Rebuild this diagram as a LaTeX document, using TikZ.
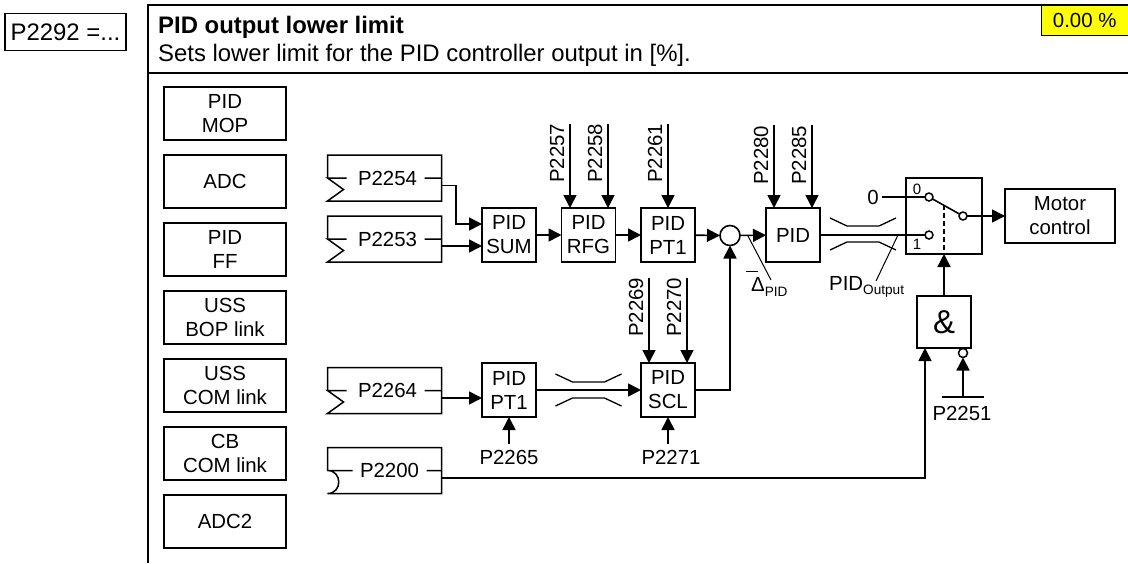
\documentclass[tikz,border=0pt]{standalone}
\usepackage{xcolor}
\usepackage{fontspec}
\setmainfont{Liberation Sans}
\usetikzlibrary{arrows.meta, calc}
\definecolor{paramyellow}{HTML}{FFFF00}
\newcommand{\basefont}{\fontsize{20.4}{24}\selectfont}
\newcommand{\headfont}{\fontsize{23.9}{28}\selectfont}
\newcommand{\subfont}{\fontsize{13.6}{14}\selectfont}
\tikzset{
  block/.style={draw, line width=1.5pt, inner sep=0pt, outer sep=0pt, align=center, minimum width=54pt, minimum height=54pt},
  srcblock/.style={block, minimum width=122pt, minimum height=53pt},
  param/.style={inner sep=0pt, outer sep=0pt, minimum width=114pt, minimum height=46pt},
  outline/.style={line width=1.5pt, line join=miter},
  conn/.style={line width=1.6pt, -{Triangle[length=13pt, width=13pt]}},
  wire/.style={line width=1.6pt},
  thinwire/.style={line width=1pt},
  frame/.style={line width=2.2pt},
  contact/.style={circle, draw, fill=white, line width=1.5pt, inner sep=0pt, outer sep=0pt, minimum size=8pt},
  crossbar/.pic={
    \draw[line width=1.3pt] (-33,-16) -- (-16,-8) -- (16,-8) -- (33,-16);
    \draw[line width=1.3pt] (-33,16) -- (-16,8) -- (16,8) -- (33,16);
  }
}

\begin{document}
\begin{tikzpicture}[x=1pt, y=-1pt, font=\basefont]
    \useasboundingbox (0,0) rectangle (1128,563);
    % header
    \node[draw, line width=1.5pt, inner sep=0pt, minimum width=121pt, minimum height=37pt, font=\headfont] (title) at (65.5,32) {P2292 =...};
    \draw[frame] (1128,5) -| (148,563);
    \draw[frame] (148,73) -- (1128,73);
    \node[anchor=base west, inner sep=0pt, font=\headfont\bfseries] (name) at (158,33) {PID output lower limit};
    \node[anchor=base west, inner sep=0pt, font=\headfont] (descr) at (158,61.5) {Sets lower limit for the PID controller output in [\%].};
    \node[draw, line width=.8pt, fill=paramyellow, inner sep=0pt, minimum width=86.5pt, minimum height=30pt] (value) at (1084.7,20) {0.00 \%};

    % sources on the left
    \foreach \nm/\y/\txt in {mop/113.5/{PID\\MOP}, adc/181.5/{ADC}, ff/249.5/{PID\\FF}, bop/317.5/{USS\\BOP link}, com/385.5/{USS\\COM link}, cb/453.5/{CB\\COM link}, adctwo/521.5/{ADC2}}
      \node[srcblock] (\nm) at (225,\y) {\txt};

    % parameter inputs
    \node[param, label={[xshift=3pt]center:P2254}] (p2254) at (384.5,178) {};
    \node[param, label={[xshift=3pt]center:P2253}] (p2253) at (384.5,239) {};
    \node[param, label={[xshift=3pt]center:P2264}] (p2264) at (384.5,390.5) {};
    \node[param, label={[xshift=5pt]center:P2200}] (p2200) at (384.5,470.5) {};
    \foreach \nm in {p2254,p2253,p2264}
      \draw[outline] (\nm.west) -- (\nm.north west) -- (\nm.north east) -- (\nm.south east) -- (\nm.south west) -- ++(16,-11.5) -- (\nm.west) -- ++(19,0) (\nm.east) -- ++(-17,0);
    \draw[outline] (p2200.west) -- (p2200.north west) -- (p2200.north east) -- (p2200.south east) -- (p2200.south west) .. controls +(15,0) and +(15,0) .. (p2200.west) -- ++(25,0) (p2200.east) -- ++(-15,0);

    % blocks
    \node[block] (pidsum) at (509,235) {PID\\SUM};
    \node[block] (pidrfg) at (588.5,235) {PID\\RFG};
    \node[block] (pidptone) at (668,235) {PID\\PT1};
    \node[circle, draw, line width=1.6pt, inner sep=0pt, outer sep=0pt, minimum size=20pt] (sumpoint) at (730,235.5) {};
    \node[block] (pidmain) at (793,235) {PID};
    \node[block] (lowptone) at (509,390) {PID\\PT1};
    \node[block] (pidscl) at (668,390) {PID\\SCL};
    \node[block, minimum width=76pt, minimum height=76pt] (switchbox) at (944,216) {};
    \node[block, minimum width=110pt] (motor) at (1060,216) {Motor\\control};
    \node[block, minimum height=52pt, font=\fontsize{33}{34}\selectfont] (andgate) at (944,322) {\&};

    % parameters entering from above
    \foreach \nm/\x/\top/\lab/\blk in {2257/570/124/183/pidrfg, 2258/608/124/183/pidrfg, 2261/668/124/183/pidptone, 2280/774/125/185/pidmain, 2285/812/125/185/pidmain, 2269/649/278/337/pidscl, 2270/687/278/337/pidscl} {
      \coordinate (top\nm) at (\x,\top);
      \draw[conn] (top\nm) -- (top\nm |- \blk.north);
      \node[rotate=90, anchor=west, inner sep=0pt] (lab\nm) at ($(\x,\lab)+(-13,0)$) {P\nm};
    }

    % parameters from below
    \node[inner sep=0pt] (p2265) at (509,457) {P2265};
    \node[inner sep=0pt] (p2271) at (671,457) {P2271};
    \coordinate (bot2265) at (509,444);
    \coordinate (bot2271) at (668,444);
    \draw[conn] (bot2265) -- (bot2265 |- lowptone.south);
    \draw[conn] (bot2271) -- (bot2271 |- pidscl.south);

    % upper path
    \draw[conn] ($(p2254.east)+(0,7.5)$) -| (456,224) -- (pidsum.west |- 0,224);
    \draw[conn] ($(p2253.east)+(0,7)$) -- (pidsum.west |- 0,246);
    \draw[conn] (pidsum) -- (pidrfg);
    \draw[conn] (pidrfg) -- (pidptone);
    \draw[conn] (pidptone) -- (sumpoint);
    \draw[conn] (sumpoint) -- (pidmain);

    % lower path
    \draw[conn] ($(p2264.east)+(0,7.5)$) -- (lowptone.west |- 0,398);
    \draw[conn] (lowptone) -- (pidscl);
    \pic at (588.5,390) {crossbar};
    \draw[conn] (pidscl.east) -| (sumpoint.south);

    % switch
    \node[inner sep=0pt] (zero) at (873,197) {0};
    \node[inner sep=0pt, font=\fontsize{15}{15}\selectfont] (labzero) at (917,189) {0};
    \node[inner sep=0pt, font=\fontsize{15}{15}\selectfont] (labone) at (917,244) {1};
    \node[contact] (swzero) at (929,197) {};
    \node[contact] (swone) at (929,235) {};
    \node[contact] (swout) at (963,216) {};
    \coordinate (levermid) at (944,205);
    \draw[wire] ($(zero.east)+(3,0)$) -- (swzero);
    \draw[wire] (pidmain) -- (swone);
    \draw[wire] (swzero) -- (swout);
    \draw[wire, dash pattern=on 5pt off 3pt] (levermid) -- (switchbox.south);
    \draw[conn] (swout) -- (motor);
    \draw[conn] (andgate.north) -- (switchbox.south);
    \pic at (863,234) {crossbar};

    % gate inputs
    \draw[conn] ($(p2200.east)+(0,7.5)$) -| ($(andgate.south west)+(8,0)$);
    \node[contact, minimum size=9pt] (inverter) at (963,353) {};
    \coordinate (barmid) at (963,397);
    \draw[wire] ($(barmid)+(-21,0)$) -- ($(barmid)+(21,0)$);
    \draw[conn] (barmid) -- (inverter.south);
    \node[inner sep=0pt] (p2251) at (962,413) {P2251};

    % signal names
    \node[anchor=base west, inner sep=0pt] (deltapid) at (751,291) {Δ\raisebox{-5pt}{\subfont PID}};
    \coordinate (deltatap) at (748,236);
    \draw[thinwire] (deltatap) -- (771,280);
    \draw[thinwire] (746,271) -- (758,271);
    \node[anchor=base west, inner sep=0pt] (pidoutput) at (829,290) {PID\raisebox{-4pt}{\subfont Output}};
    \coordinate (outputtap) at (898,235);
    \draw[thinwire] (outputtap) -- (876,281);
  \end{tikzpicture}
\end{document}
